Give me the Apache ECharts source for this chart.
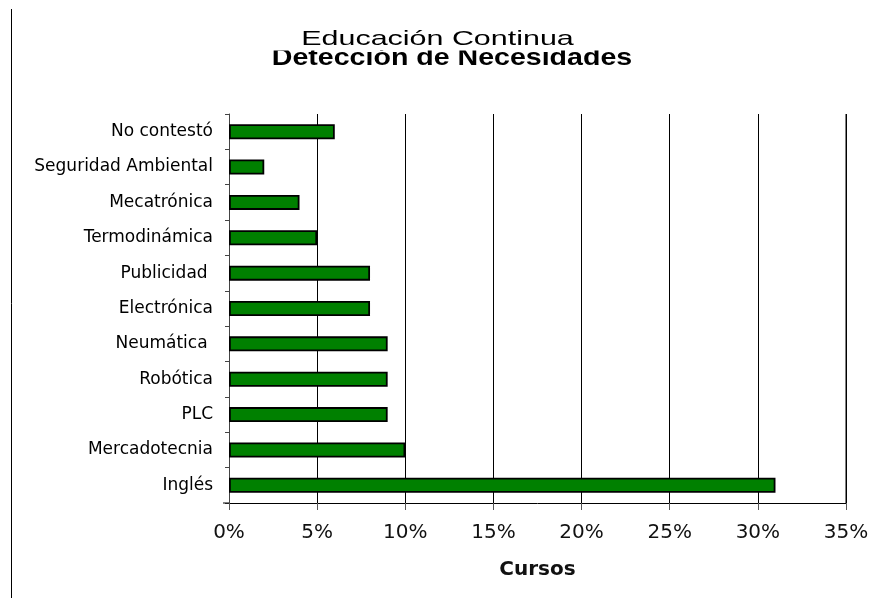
<!DOCTYPE html>
<html>
<head>
<meta charset="utf-8">
<script src="https://cdn.jsdelivr.net/npm/echarts@6/dist/echarts.min.js"></script>
<style>
html,body{margin:0;padding:0;background:#fff;}
#chart{width:876px;height:598px;}
</style>
</head>
<body>
<div id="chart"></div>
<script>
// Data (top to bottom as displayed)
const categories = ["No contestó", "Seguridad Ambiental", "Mecatrónica", "Termodinámica", "Publicidad ", "Electrónica", "Neumática ", "Robótica", "PLC", "Mercadotecnia", "Inglés"];
const values = [6, 2, 4, 5, 8, 8, 9, 9, 9, 10, 31];
const xTicks = [0, 5, 10, 15, 20, 25, 30, 35];
const titleLine1 = "Educación Continua";
const titleLine2 = "Detección de Necesidades";
const xAxisName = "Cursos";

const chart = echarts.init(document.getElementById('chart'), null, {renderer: 'canvas'});
chart.setOption({
  animation: false,
  backgroundColor: '#fff',
  grid: {left: 229, top: 114, width: 617, height: 389, containLabel: false},
  xAxis: {
    type: 'value', min: xTicks[0], max: xTicks[xTicks.length - 1], interval: 5,
    axisLine: {show: true, lineStyle: {color: '#000', width: 1}},
    axisTick: {show: true, length: 7, lineStyle: {color: '#555', width: 1}},
    axisLabel: {formatter: '{value}%', margin: 20, color: '#111', fontFamily: 'DejaVu Sans', fontSize: 20},
    splitLine: {show: true, lineStyle: {color: '#000', width: 1}},
    name: xAxisName, nameLocation: 'middle', nameGap: 57,
    nameTextStyle: {fontFamily: 'DejaVu Sans', fontWeight: 'bold', fontSize: 20, color: '#111'}
  },
  yAxis: {
    type: 'category', data: categories, inverse: true,
    axisLine: {show: true, lineStyle: {color: '#444', width: 1}},
    axisTick: {show: true, length: 4, lineStyle: {color: '#444'}},
    axisLabel: {margin: 16, color: '#000', fontFamily: 'DejaVu Sans', fontSize: 17},
    splitLine: {show: false}
  },
  series: [{
    type: 'bar', data: values, barWidth: 15,
    itemStyle: {color: '#008000', borderColor: '#000', borderWidth: 1.8},
    z: 3
  }],
  graphic: [
    {type: 'line', shape: {x1: 11.5, y1: 9, x2: 11.5, y2: 598}, style: {stroke: '#000', lineWidth: 1}, z: 10},
    {type: 'line', shape: {x1: 846, y1: 114, x2: 846, y2: 503}, style: {stroke: '#000', lineWidth: 1}, z: 10},
    {type: 'line', shape: {x1: 223, y1: 503, x2: 229, y2: 503}, style: {stroke: '#000', lineWidth: 1}, z: 10},
    {type: 'text', x: 452, y: 58, scaleX: 1.19, z: 10,
      style: {text: titleLine2, font: 'bold 24px "Liberation Sans", Arial, sans-serif', fill: '#000', textAlign: 'center', textVerticalAlign: 'middle'}},
    {type: 'rect', shape: {x: 250, y: 0, width: 420, height: 50.5}, style: {fill: '#fff'}, z: 11},
    {type: 'text', x: 437.5, y: 39.5, scaleX: 1.45, z: 12,
      style: {text: titleLine1, font: '21px "Liberation Sans", Arial, sans-serif', fill: '#000', textAlign: 'center', textVerticalAlign: 'middle'}}
  ]
});
</script>
</body>
</html>
